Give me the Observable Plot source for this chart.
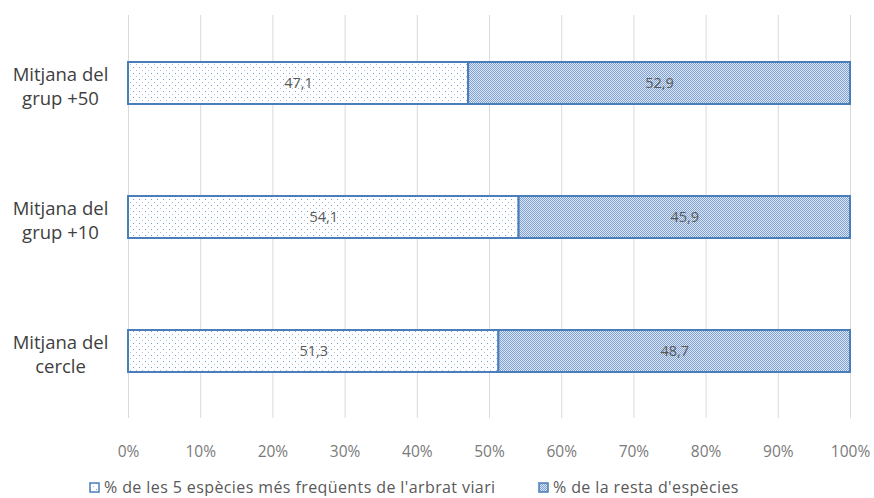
<!DOCTYPE html>
<html><head><meta charset="utf-8">
<script src="https://cdn.jsdelivr.net/npm/d3@7"></script>
<script src="https://cdn.jsdelivr.net/npm/@observablehq/plot@0.6"></script>
<style>
body{margin:0;background:#fff;font-family:"Open Sans",sans-serif;}
#legend{height:22px;font-size:16px;letter-spacing:0.4px;color:#595959;position:relative;}
#legend .item{display:flex;align-items:center;position:absolute;top:2px;white-space:nowrap;}
#legend svg{margin-right:4px;}
</style></head>
<body><div id="chart"></div><div id="legend"></div>
<script>
const categories = ["Mitjana del\ngrup +50", "Mitjana del\ngrup +10", "Mitjana del\ncercle"];
const series = ["% de les 5 espècies més freqüents de l'arbrat viari", "% de la resta d'espècies"];
const topFive = [47.1, 54.1, 51.3];
const rest = [52.9, 45.9, 48.7];
const xTicks = [0,10,20,30,40,50,60,70,80,90,100];

const data = [];
categories.forEach((c,i)=>{
  data.push({cat:c, series:series[0], value:topFive[i]});
  data.push({cat:c, series:series[1], value:rest[i]});
});
const fmt = v => v.toFixed(1).replace(".", ",");

const chart = Plot.plot({
  width: 874, height: 474,
  marginLeft: 128, marginRight: 24, marginTop: 15, marginBottom: 56,
  style: {fontFamily: "'Open Sans', sans-serif", color: "#595959", background: "#fff"},
  x: {domain:[0,100], ticks: xTicks, tickFormat: d => d + "%", label: null},
  y: {domain: categories, paddingInner: 0.69, paddingOuter: 0.345, label: null},
  color: {domain: series, range: ["url(#dots)", "url(#checks)"]},
  marks: [
    Plot.gridX(xTicks, {stroke:"#d9d9d9", strokeOpacity:1, strokeWidth:1}),
    Plot.barX(data, Plot.stackX({x:"value", y:"cat", fill:"series", stroke:"#4a7ebb", strokeWidth:2})),
    Plot.text(data, Plot.stackX({x:"value", y:"cat", text: d => fmt(d.value), fill:"#595959", fontSize:14.5})),
    Plot.axisX({ticks: xTicks, tickFormat: d => d + "%", tickSize:0, tickPadding:27, fontSize:15.5, fill:"#7a7a7a", label: null}),
    Plot.axisY({tickSize:0, tickPadding:68, textAnchor:"middle", fontSize:18.5, lineHeight:1.3, fill:"#404040", dy:2, label: null})
  ]
});

const svg = d3.select(chart);
const defs = svg.insert("defs", ":first-child");
const dots = defs.append("pattern").attr("id","dots").attr("patternUnits","userSpaceOnUse").attr("width",6).attr("height",6);
dots.append("rect").attr("width",6).attr("height",6).attr("fill","#fff");
dots.append("rect").attr("x",1).attr("y",1).attr("width",1).attr("height",1).attr("fill","#7a9fd4");
dots.append("rect").attr("x",4).attr("y",4).attr("width",1).attr("height",1).attr("fill","#a9c1e4");
const checks = defs.append("pattern").attr("id","checks").attr("patternUnits","userSpaceOnUse").attr("width",2).attr("height",2);
checks.append("rect").attr("width",2).attr("height",2).attr("fill","#dde7f4");
checks.append("rect").attr("x",0).attr("y",0).attr("width",1).attr("height",1).attr("fill","#7ea0d3");
checks.append("rect").attr("x",1).attr("y",1).attr("width",1).attr("height",1).attr("fill","#7ea0d3");

document.getElementById("chart").appendChild(chart);

const legend = document.getElementById("legend");
const pos = [89, 538];
series.forEach((s,i)=>{
  const it = document.createElement("div");
  it.className = "item";
  it.style.left = pos[i] + "px";
  it.innerHTML = `<svg width="11" height="11"><rect x="1" y="1" width="9" height="9" fill="${i===0?'url(#dots)':'url(#checks)'}" stroke="#4a7ebb" stroke-width="1.5"/></svg><span>${s}</span>`;
  legend.appendChild(it);
});
</script></body></html>
